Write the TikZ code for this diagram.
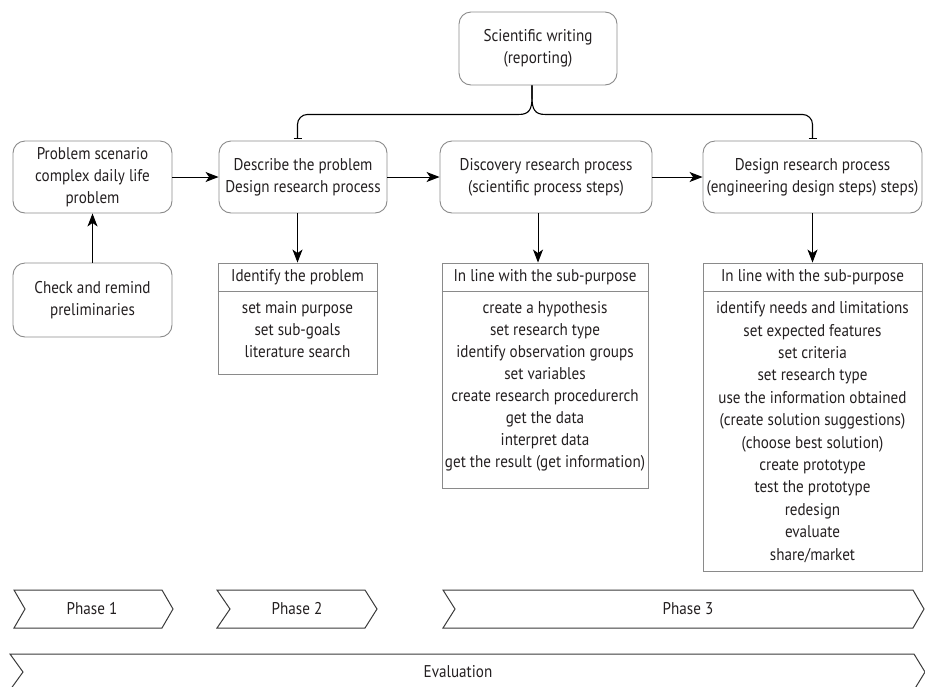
\documentclass[tikz,border=0pt]{standalone}
\usepackage{fontspec}
\setmainfont{PT Sans}[FakeStretch=0.89]
\usetikzlibrary{arrows.meta}
\definecolor{bordergray}{HTML}{8A8A8A}
\definecolor{txt}{HTML}{231F20}
\definecolor{chev}{HTML}{3A3A3A}
\begin{document}
\begin{tikzpicture}[x=1pt,y=-1pt,
  rbox/.style={draw=bordergray, line width=0.9pt, rounded corners=12pt, align=center,
     font=\fontsize{17}{22}\selectfont, text=txt, inner sep=0pt},
  lbox/.style={draw=bordergray, line width=0.9pt, inner sep=0pt},
  divider/.style={draw=bordergray, line width=0.9pt},
  arr/.style={-{Stealth[length=13pt,width=10pt,inset=3.5pt]}, line width=1pt, draw=black},
  brc/.style={line width=1.1pt, draw=black},
  lbl/.style={font=\fontsize{17}{22}\selectfont, text=txt, align=center, inner sep=0pt},
  chevron/.style={draw=chev, line width=1pt, line join=miter},
  chevtxt/.style={font=\fontsize{17}{22}\selectfont, text=txt, inner sep=0pt}
]
\useasboundingbox (0,0) rectangle (925,686);

% main rounded nodes
\node[rbox, minimum width=158pt, minimum height=73pt] (sw) at (538,48.5) {Scientific writing\\(reporting)};
\node[rbox, minimum width=159pt, minimum height=72pt] (ps) at (92.5,177) {Problem scenario\\complex daily life\\problem};
\node[rbox, minimum width=159pt, minimum height=74pt] (cr) at (92.5,300) {Check and remind\\preliminaries};
\node[rbox, minimum width=168pt, minimum height=72pt] (dp) at (303,177) {Describe the problem\\Design research process};
\node[rbox, minimum width=212pt, minimum height=72pt] (dr) at (546,177) {Discovery research process\\(scientific process steps)};
\node[rbox, minimum width=219pt, minimum height=72pt] (de) at (812.5,177) {Design research process\\(engineering design steps) steps)};

% list boxes
\node[lbox, minimum width=159pt, minimum height=111pt] (ib) at (297.5,318.5) {};
\node[lbox, minimum width=206pt, minimum height=225pt] (db) at (545,375.5) {};
\node[lbox, minimum width=219pt, minimum height=308pt] (eb) at (812.5,417) {};
\foreach \b in {ib,db,eb}
  \draw[divider] ([yshift=-29pt]\b.north west) -- ([yshift=-29pt]\b.north east);

\node[lbl] (ibh) at ([yshift=-14.5pt]ib.north) {Identify the problem};
\node[lbl] (dbh) at ([yshift=-14.5pt]db.north) {In line with the sub-purpose};
\node[lbl] (ebh) at ([yshift=-14.5pt]eb.north) {In line with the sub-purpose};

\node[lbl, anchor=north] (ibt) at ([yshift=-39pt]ib.north) {set main purpose\\set sub-goals\\literature search};
\node[lbl, anchor=north] (dbt) at ([yshift=-39pt]db.north) {create a hypothesis\\set research type\\identify observation groups\\set variables\\create research procedurerch\\get the data\\interpret data\\get the result (get information)};
\node[lbl, anchor=north, font=\fontsize{17}{22.4}\selectfont] (ebt) at ([yshift=-39pt]eb.north) {identify needs and limitations\\set expected features\\set criteria\\set research type\\use the information obtained\\(create solution suggestions)\\(choose best solution)\\create prototype\\test the prototype\\redesign\\evaluate\\share/market};

% arrows
\draw[arr] (cr.north) -- (ps.south);
\draw[arr] (ps.east) -- (dp.west);
\draw[arr] (dp.east) -- (dr.west);
\draw[arr] (dr.east) -- (de.west);
\draw[arr] (dp.south -| ib.north) -- (ib.north);
\draw[arr] ([xshift=-8pt]dr.south) -- ([xshift=-8pt]dr.south |- db.north);
\draw[arr] (de.south) -- (de.south |- eb.north);

% brace from scientific writing
\coordinate (cusp) at ([xshift=-6pt]sw.south);
\draw[brc] (cusp) -- ([yshift=-12pt]cusp)
  .. controls ([yshift=-24pt]cusp) and ([xshift=-3pt,yshift=-29pt]cusp) .. ([xshift=-13pt,yshift=-29pt]cusp)
  [rounded corners=10pt] -| ([yshift=2pt]ib.north |- dp.north);
\draw[brc] (cusp) -- ([yshift=-12pt]cusp)
  .. controls ([yshift=-24pt]cusp) and ([xshift=3pt,yshift=-29pt]cusp) .. ([xshift=13pt,yshift=-29pt]cusp)
  [rounded corners=10pt] -| ([yshift=2pt]de.north);
\draw[brc] ([xshift=-4pt,yshift=2pt]ib.north |- dp.north) -- ([xshift=4pt,yshift=2pt]ib.north |- dp.north);
\draw[brc] ([xshift=-4pt,yshift=2pt]de.north) -- ([xshift=4pt,yshift=2pt]de.north);

% phase chevrons
\draw[chevron] (14,590) -- (162,590) -- (173,609) -- (162,628) -- (14,628) -- (25,609) -- cycle;
\node[chevtxt] (p1) at (92,609) {Phase 1};
\draw[chevron] (217,590) -- (365,590) -- (377,609) -- (365,628) -- (217,628) -- (230,609) -- cycle;
\node[chevtxt] (p2) at (297,609) {Phase 2};
\draw[chevron] (443,590) -- (913,590) -- (924,609) -- (913,628) -- (443,628) -- (455,609) -- cycle;
\node[chevtxt] (p3) at (688,609) {Phase 3};
\draw[chevron] (10,654) -- (914,654) -- (925,672) -- (914,690) -- (10,690) -- (23,672) -- cycle;
\node[chevtxt] (ev) at (458,672) {Evaluation};
\end{tikzpicture}
\end{document}
